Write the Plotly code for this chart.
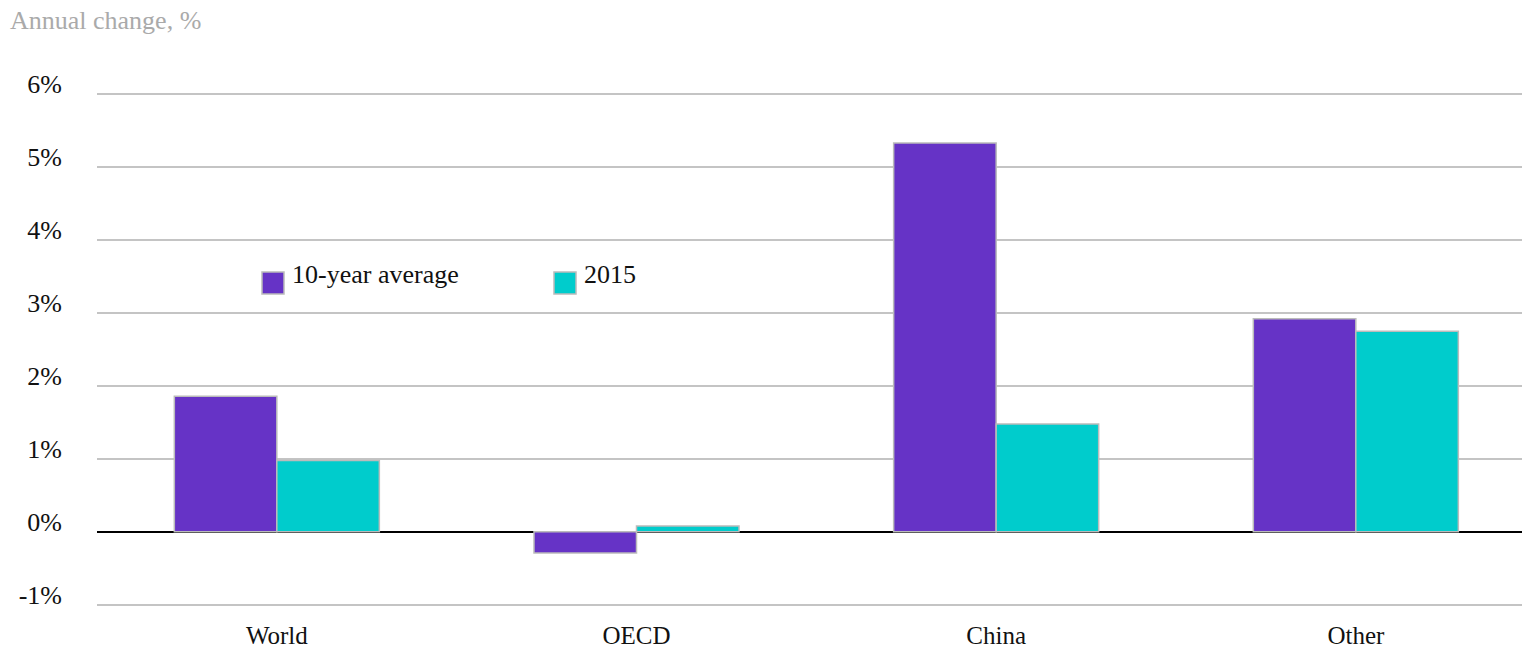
import plotly.graph_objects as go

categories = ["World", "OECD", "China", "Other"]
avg_10yr = [1.86, -0.29, 5.33, 2.92]
y2015 = [0.98, 0.08, 1.48, 2.75]
tick_vals = [-1, 0, 1, 2, 3, 4, 5, 6]
tick_text = ["-1%", "0%", "1%", "2%", "3%", "4%", "5%", "6%"]

PURPLE = "#6633C6"
TEAL = "#00CCCC"
FONT = "Liberation Serif"

fig = go.Figure()
fig.add_trace(go.Bar(x=categories, y=avg_10yr, name="10-year average",
                     marker=dict(color=PURPLE, line=dict(color="#BBBBBB", width=1.5))))
fig.add_trace(go.Bar(x=categories, y=y2015, name="2015",
                     marker=dict(color=TEAL, line=dict(color="#BBBBBB", width=1.5))))

# plot area geometry (pixels) for legend/title placement
L, T, W, H = 97, 92, 1425, 515

def px(x):
    return (x - L) / W

def py(y):
    return (T + H - y) / H

# custom legend
legend_items = [("10-year average", PURPLE, 262), ("2015", TEAL, 554)]
for name, col, x0 in legend_items:
    fig.add_shape(type="rect", xref="paper", yref="paper",
                  x0=px(x0), x1=px(x0 + 22), y0=py(294), y1=py(272),
                  fillcolor=col, line=dict(color="#BBBBBB", width=1.5))
    fig.add_annotation(xref="paper", yref="paper", x=px(x0 + 28), y=py(274),
                       text=name, showarrow=False, xanchor="left", yanchor="middle",
                       font=dict(family=FONT, size=26, color="#111111"))

fig.add_annotation(xref="paper", yref="paper", x=px(8), y=py(20),
                   text="Annual change, %", showarrow=False, xanchor="left", yanchor="middle",
                   font=dict(family=FONT, size=26, color="#AAAAAA"))

fig.update_layout(
    width=1524, height=651,
    margin=dict(l=L, r=1524 - L - W, t=T, b=651 - T - H, autoexpand=False),
    plot_bgcolor="white", paper_bgcolor="white",
    barmode="group", bargap=0.43, bargroupgap=0,
    showlegend=False,
    font=dict(family=FONT, size=25, color="#111111"),
    xaxis=dict(range=[-0.5, 3.462], showgrid=False, showline=False, ticks="",
               automargin=False, tickfont=dict(family=FONT, size=25), ticklabelstandoff=11),
    yaxis=dict(range=[-1.03, 6.03], tickvals=tick_vals, ticktext=tick_text,
               showgrid=True, gridcolor="#C4C4C4", gridwidth=1.5,
               zeroline=True, zerolinecolor="#000000", zerolinewidth=2,
               showline=False, ticks="", automargin=False,
               ticklabelstandoff=34, ticklabelshift=-10,
               tickfont=dict(family=FONT, size=26)),
)

fig.write_html("out.html", config={"displayModeBar": False},
               post_script="document.body.style.margin='0';document.body.style.overflow='hidden';")
